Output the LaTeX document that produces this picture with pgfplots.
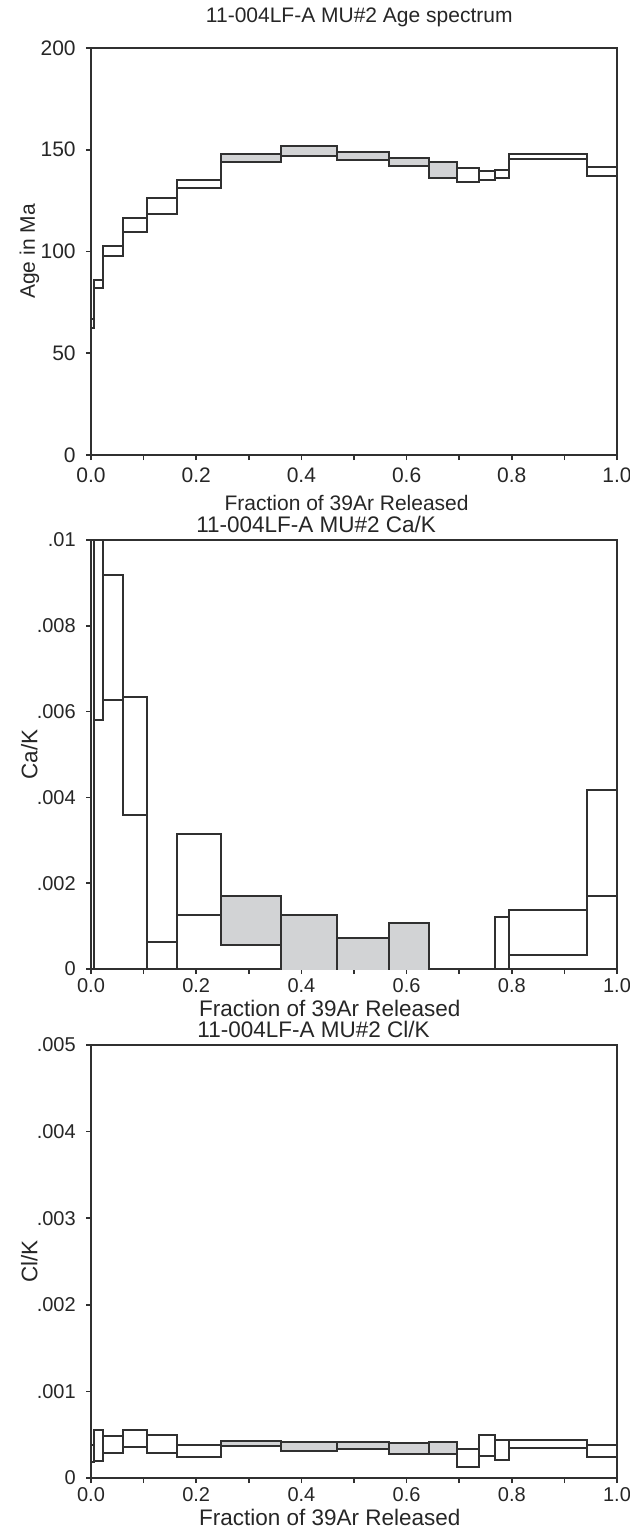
\documentclass[border=0pt]{standalone}
\usepackage{pgfplots}
\pgfplotsset{compat=1.18}
\usepackage{fontspec}
\setmainfont{Liberation Sans}
\definecolor{lc}{HTML}{303030}
\definecolor{gf}{HTML}{D2D3D5}
\definecolor{tc}{HTML}{262626}
\newcommand{\fA}{\fontsize{21bp}{25bp}\selectfont}
\newcommand{\fB}{\fontsize{22.5bp}{27bp}\selectfont}
\newcommand{\fT}{\fontsize{20bp}{24bp}\selectfont}
\pgfplotsset{
 specstyle/.style={
  scale only axis, width=526bp,
  xmin=0,xmax=1,
  line width=2bp,
  axis line style={draw=lc, line width=2bp},
  tick style={draw=lc, line width=1.6bp},
  tick align=outside, xtick pos=bottom, ytick pos=left,
  major tick length=5bp, minor tick length=5bp,
  xtick={0,0.2,0.4,0.6,0.8,1}, xticklabels={0.0,0.2,0.4,0.6,0.8,1.0},
  minor xtick={0.1,0.3,0.5,0.7,0.9},
  scaled y ticks=false, scaled x ticks=false,
  tick label style={text=tc},
  yticklabel style={xshift=-6bp},
  label style={text=tc},
  title style={text=tc},
  xlabel={Fraction of 39Ar Released},
 },
 env/.style={const plot, draw=lc, line width=2bp, mark=none},
 vert/.style={draw=lc, line width=2bp, mark=none, unbounded coords=jump},
 gbox/.style={fill=gf, draw=none, mark=none, line width=0pt},
}
\begin{document}
\begin{tikzpicture}
\path[use as bounding box] (0,0) rectangle (630bp,-1530bp);
% ---------------- Age spectrum ----------------
\begin{axis}[specstyle,
  at={(91bp,-455bp)}, anchor=south west, height=407bp,
  ymin=0, ymax=200, ytick={0,50,100,150,200}, yticklabels={0,50,100,150,200},
  tick label style={font=\fA},
  xticklabel style={yshift=-4bp},
  label style={font=\fA}, title style={font=\fA},
  title={11-004LF-A MU\#2 Age spectrum},
  title style={at={(axis description cs:0.51,1)}, anchor=base, yshift=19.5bp},
  xlabel style={at={(axis description cs:0.486,0)}, anchor=base, yshift=-55bp},
  ylabel={Age in Ma},
  ylabel style={at={(axis description cs:-0.117,0.5)}, anchor=center},
]
\addplot[gbox] coordinates {(0.248,144.0)(0.362,144.0)(0.362,147.9)(0.248,147.9)} -- cycle;
\addplot[gbox] coordinates {(0.362,147.1)(0.468,147.1)(0.468,152.0)(0.362,152.0)} -- cycle;
\addplot[gbox] coordinates {(0.468,144.9)(0.566,144.9)(0.566,148.7)(0.468,148.7)} -- cycle;
\addplot[gbox] coordinates {(0.566,142.0)(0.642,142.0)(0.642,145.9)(0.566,145.9)} -- cycle;
\addplot[gbox] coordinates {(0.642,136.2)(0.695,136.2)(0.695,143.8)(0.642,143.8)} -- cycle;
\addplot[env] coordinates {(0,66.6)(0.006,86.0)(0.022,102.7)(0.060,116.3)(0.106,126.3)(0.163,135.2)(0.248,147.9)(0.362,152.0)(0.468,148.7)(0.566,145.9)(0.642,143.8)(0.695,141.2)(0.737,139.8)(0.768,140.2)(0.795,147.9)(0.943,141.3)(1,141.3)};
\addplot[env] coordinates {(0,62.4)(0.006,82.0)(0.022,97.8)(0.060,109.6)(0.106,118.5)(0.163,131.2)(0.248,144.0)(0.362,147.1)(0.468,144.9)(0.566,142.0)(0.642,136.2)(0.695,134.1)(0.737,134.9)(0.768,136.2)(0.795,145.3)(0.943,137.2)(1,137.2)};
\addplot[vert] coordinates {(0,62.4)(0,66.6)(0,nan)
 (0.006,62.4)(0.006,86.0)(0.006,nan)
 (0.022,82.0)(0.022,102.7)(0.022,nan)
 (0.060,97.8)(0.060,116.3)(0.060,nan)
 (0.106,109.6)(0.106,126.3)(0.106,nan)
 (0.163,118.5)(0.163,135.2)(0.163,nan)
 (0.248,131.2)(0.248,147.9)(0.248,nan)
 (0.362,144.0)(0.362,152.0)(0.362,nan)
 (0.468,144.9)(0.468,152.0)(0.468,nan)
 (0.566,142.0)(0.566,148.7)(0.566,nan)
 (0.642,136.2)(0.642,145.9)(0.642,nan)
 (0.695,134.1)(0.695,143.8)(0.695,nan)
 (0.737,134.1)(0.737,141.2)(0.737,nan)
 (0.768,134.9)(0.768,140.2)(0.768,nan)
 (0.795,136.2)(0.795,147.9)(0.795,nan)
 (0.943,137.2)(0.943,147.9)(0.943,nan)
 (1,137.2)(1,141.3)};
\end{axis}
% ---------------- Ca/K ----------------
\begin{axis}[specstyle,
  at={(91bp,-969bp)}, anchor=south west, height=429bp,
  ymin=0, ymax=0.01, ytick={0,0.002,0.004,0.006,0.008,0.01},
  yticklabels={0,.002,.004,.006,.008,.01},
  tick label style={font=\fT},
  label style={font=\fB}, title style={font=\fB},
  title={11-004LF-A MU\#2 Ca/K},
  title style={at={(axis description cs:0.428,1)}, anchor=base, yshift=1.5bp},
  xlabel style={at={(axis description cs:0.454,0)}, anchor=base, yshift=-47bp},
  ylabel={Ca/K},
  ylabel style={at={(axis description cs:-0.117,0.5)}, anchor=center},
]
\addplot[gbox] coordinates {(0.248,0.00056)(0.362,0.00056)(0.362,0.0017)(0.248,0.0017)} -- cycle;
\addplot[gbox] coordinates {(0.362,-0.0005)(0.468,-0.0005)(0.468,0.00126)(0.362,0.00126)} -- cycle;
\addplot[gbox] coordinates {(0.468,-0.0005)(0.566,-0.0005)(0.566,0.00072)(0.468,0.00072)} -- cycle;
\addplot[gbox] coordinates {(0.566,-0.0005)(0.642,-0.0005)(0.642,0.00107)(0.566,0.00107)} -- cycle;
\addplot[env] coordinates {(0,0.012)(0.006,0.012)(0.022,0.00918)(0.060,0.00635)(0.106,0.00063)(0.163,0.00315)(0.248,0.0017)(0.362,0.00126)(0.468,0.00072)(0.566,0.00107)(0.642,-0.0005)(0.695,-0.0005)(0.737,-0.0005)(0.768,0.00122)(0.795,0.00137)(0.943,0.00418)(1,0.00418)};
\addplot[env] coordinates {(0,-0.001)(0.006,0.0058)(0.022,0.00626)(0.060,0.00358)(0.106,-0.0005)(0.163,0.00126)(0.248,0.00056)(0.362,-0.0005)(0.468,-0.0005)(0.566,-0.0005)(0.642,-0.002)(0.695,-0.002)(0.737,-0.002)(0.768,-0.0005)(0.795,0.00033)(0.943,0.00171)(1,0.00171)};
\addplot[vert] coordinates {(0.006,-0.001)(0.006,0.012)(0.006,nan)
 (0.022,0.0058)(0.022,0.012)(0.022,nan)
 (0.060,0.00358)(0.060,0.00918)(0.060,nan)
 (0.106,-0.0005)(0.106,0.00635)(0.106,nan)
 (0.163,-0.0005)(0.163,0.00315)(0.163,nan)
 (0.248,0.00056)(0.248,0.00315)(0.248,nan)
 (0.362,-0.0005)(0.362,0.0017)(0.362,nan)
 (0.468,-0.0005)(0.468,0.00126)(0.468,nan)
 (0.566,-0.0005)(0.566,0.00107)(0.566,nan)
 (0.642,-0.002)(0.642,0.00107)(0.642,nan)
 (0.768,-0.002)(0.768,0.00122)(0.768,nan)
 (0.795,-0.0005)(0.795,0.00137)(0.795,nan)
 (0.943,0.00033)(0.943,0.00418)(0.943,nan)
 (1,0.00171)(1,0.00418)};
\end{axis}
% ---------------- Cl/K ----------------
\begin{axis}[specstyle,
  at={(91bp,-1478bp)}, anchor=south west, height=433bp,
  ymin=0, ymax=0.005, ytick={0,0.001,0.002,0.003,0.004,0.005},
  yticklabels={0,.001,.002,.003,.004,.005},
  tick label style={font=\fT},
  label style={font=\fB}, title style={font=\fB},
  title={11-004LF-A MU\#2 Cl/K},
  title style={at={(axis description cs:0.423,1)}, anchor=base, yshift=1.5bp},
  xlabel style={at={(axis description cs:0.454,0)}, anchor=base, yshift=-47bp},
  ylabel={Cl/K},
  ylabel style={at={(axis description cs:-0.117,0.5)}, anchor=center},
]
\addplot[gbox] coordinates {(0.248,0.00037)(0.362,0.00037)(0.362,0.00043)(0.248,0.00043)} -- cycle;
\addplot[gbox] coordinates {(0.362,0.00031)(0.468,0.00031)(0.468,0.00042)(0.362,0.00042)} -- cycle;
\addplot[gbox] coordinates {(0.468,0.00033)(0.566,0.00033)(0.566,0.00042)(0.468,0.00042)} -- cycle;
\addplot[gbox] coordinates {(0.566,0.00028)(0.642,0.00028)(0.642,0.0004)(0.566,0.0004)} -- cycle;
\addplot[gbox] coordinates {(0.642,0.00028)(0.695,0.00028)(0.695,0.00042)(0.642,0.00042)} -- cycle;
\addplot[env] coordinates {(0,0.00038)(0.006,0.00055)(0.022,0.00048)(0.060,0.00055)(0.106,0.0005)(0.163,0.00038)(0.248,0.00043)(0.362,0.00042)(0.468,0.00042)(0.566,0.0004)(0.642,0.00042)(0.695,0.00033)(0.737,0.0005)(0.768,0.00044)(0.795,0.00044)(0.943,0.00038)(1,0.00038)};
\addplot[env] coordinates {(0,0.00018)(0.006,0.0002)(0.022,0.00029)(0.060,0.00036)(0.106,0.00029)(0.163,0.00024)(0.248,0.00037)(0.362,0.00031)(0.468,0.00033)(0.566,0.00028)(0.642,0.00028)(0.695,0.00013)(0.737,0.00026)(0.768,0.00021)(0.795,0.00035)(0.943,0.00024)(1,0.00024)};
\addplot[vert] coordinates {(0,0.00018)(0,0.00038)(0,nan)
 (0.006,0.00018)(0.006,0.00055)(0.006,nan)
 (0.022,0.0002)(0.022,0.00055)(0.022,nan)
 (0.060,0.00029)(0.060,0.00055)(0.060,nan)
 (0.106,0.00029)(0.106,0.00055)(0.106,nan)
 (0.163,0.00024)(0.163,0.0005)(0.163,nan)
 (0.248,0.00024)(0.248,0.00043)(0.248,nan)
 (0.362,0.00031)(0.362,0.00043)(0.362,nan)
 (0.468,0.00031)(0.468,0.00042)(0.468,nan)
 (0.566,0.00028)(0.566,0.00042)(0.566,nan)
 (0.642,0.00028)(0.642,0.00042)(0.642,nan)
 (0.695,0.00013)(0.695,0.00042)(0.695,nan)
 (0.737,0.00013)(0.737,0.0005)(0.737,nan)
 (0.768,0.00021)(0.768,0.0005)(0.768,nan)
 (0.795,0.00021)(0.795,0.00044)(0.795,nan)
 (0.943,0.00024)(0.943,0.00044)(0.943,nan)
 (1,0.00024)(1,0.00038)};
\end{axis}
\end{tikzpicture}
\end{document}
